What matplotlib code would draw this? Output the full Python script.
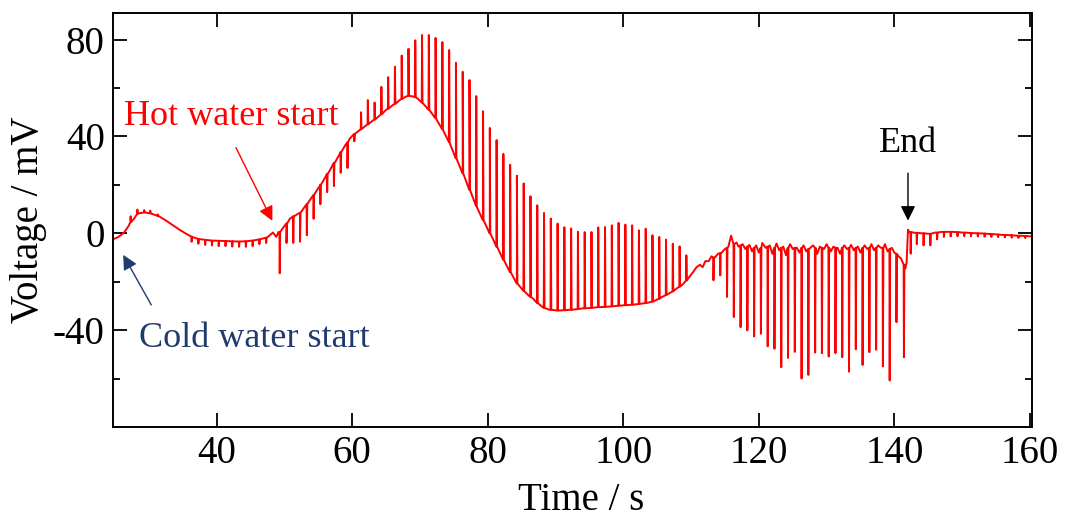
import matplotlib
matplotlib.use("Agg")
import matplotlib.pyplot as plt
from matplotlib.ticker import MultipleLocator

# ---- baseline samples (time s, voltage mV) ----
base_t = [24.7, 25.5, 26.3, 27.0, 27.8, 28.6, 29.5, 30.5, 31.5, 32.5, 33.5, 34.5, 35.5, 36.5, 37.5,
          39.0, 41.0, 43.0, 45.0, 46.5, 47.5, 48.3, 48.8, 49.1,
          49.6, 50.3, 50.8, 51.5, 52.3, 53.0, 53.7, 54.5, 55.2, 56.0, 56.7, 57.5, 58.2, 59.0, 59.6,
          60.3, 61.1, 62.1, 63.0,
          64.1, 65.0, 66.0, 67.0, 67.8, 68.4, 69.0, 69.7, 70.4, 71.5, 72.5, 73.5, 74.4, 75.3, 76.3,
          77.3, 78.4, 79.3, 80.3, 81.2, 82.2, 83.3, 84.3, 85.4, 86.7, 88.1, 89.0, 90.2, 92.0, 94.0,
          96.5, 99.9, 102.0, 103.9, 105.4, 106.4, 107.4, 108.8, 109.6, 110.3, 110.8, 111.3, 111.7,
          112.1, 112.6, 113.0, 113.5, 114.0, 114.5, 115.0, 115.5, 115.9, 116.2,
          116.7, 117.0, 117.6, 118.0, 118.6, 119.0, 119.6, 120.0, 120.5, 121.0, 121.6, 122.0, 122.6,
          123.0, 123.6, 124.0, 124.6, 125.0, 125.6, 126.0, 126.6, 127.0, 127.6, 128.0, 128.6, 129.0,
          129.6, 130.0, 130.6, 131.0, 131.6, 132.0, 132.6, 133.0, 133.6, 134.0, 134.6, 135.0, 135.6,
          136.0, 136.6, 137.0, 137.6, 138.0, 138.6, 139.0, 139.6, 140.0, 140.6, 141.0, 141.3, 141.6,
          141.8, 142.0, 142.2,
          143.0, 144.0, 145.0, 146.0, 147.0, 148.0, 149.0, 150.0, 152.0, 154.0, 156.0, 158.0, 160.3]
base_v = [-2.5, -1.5, 0.2, 3.0, 6.0, 8.3, 8.6, 8.0, 7.0, 5.3, 3.4, 1.5, -0.2, -1.6, -2.4,
          -2.9, -3.2, -3.4, -3.1, -2.4, -1.6, 0.3, -1.5, 0.5,
          1.5, 4.0, 6.0, 7.2, 8.5, 11.0, 13.5, 16.5, 19.5, 23.0, 26.0, 29.5, 33.0, 36.5, 39.0,
          41.0, 42.6, 44.7, 46.5,
          48.8, 51.0, 53.0, 55.0, 56.3, 56.8, 56.5, 55.5, 53.8, 50.5, 46.7, 42.0, 37.2, 31.0, 24.8,
          18.0, 10.8, 5.5, 0.0, -5.0, -10.5, -16.0, -20.7, -24.0, -27.0, -30.5, -31.5, -31.9, -31.6, -31.0,
          -30.5, -29.8, -29.3, -28.5, -26.8, -25.4, -23.8, -21.0, -18.5, -16.0, -14.0, -13.0, -14.0,
          -11.5, -11.5, -9.5, -10.0, -8.4, -8.0, -6.5, -5.5, -1.0, -4.0,
          -3.8, -5.5, -4.5, -6.5, -4.8, -7.5, -5.0, -8.0, -4.0, -6.0, -5.0, -8.5, -4.2,
          -7.0, -5.5, -9.0, -4.5, -6.5, -6.0, -8.0, -5.0, -7.5, -6.0, -5.0, -8.5, -5.5,
          -6.5, -4.5, -7.5, -5.5, -6.0, -8.5, -5.0, -6.5, -4.8, -7.0, -5.5, -8.0, -5.0,
          -6.5, -4.5, -7.0, -5.0, -6.0, -4.5, -7.5, -6.0, -8.0, -9.5, -10.5, -12.5, -14.5,
          -12.0, 1.5, 0.5,
          0.2, 0.0, -0.2, 0.3, 0.6, 0.6, 0.5, 0.3, 0.0, -0.3, -0.7, -1.0, -1.3]

# ---- spikes: time, level at the spike foot, spike extreme ----
spike_t = [27.3, 28.3, 29.3, 30.2, 31.3,
           36.3, 37.3, 38.3, 39.3, 40.3, 41.3, 42.3, 43.3, 44.3, 45.3, 46.3, 47.3,
           49.3,
           50.3, 51.3, 52.3, 53.3, 54.3, 55.3, 56.3, 57.3, 58.3, 59.3, 60.3,
           61.3, 62.3, 63.3, 64.3, 65.3, 66.3, 67.3, 68.3, 69.3, 70.3, 71.3, 72.3, 73.3, 74.3,
           75.3, 76.3, 77.3, 78.3, 79.3, 80.3, 81.3, 82.3, 83.3, 84.3, 85.3, 86.3, 87.3, 88.3,
           89.3, 90.3, 91.3, 92.3, 93.3, 94.3, 95.3, 96.3, 97.3, 98.3, 99.3, 100.3, 101.3, 102.3,
           103.3, 104.3, 105.3, 106.3, 107.3, 108.3, 109.3,
           113.3, 114.3,
           115.3, 116.3, 117.3, 118.3, 119.3, 120.3, 121.3, 122.3, 123.3, 124.3, 125.3, 126.3,
           127.3, 128.3, 129.3, 130.3, 131.3, 132.3, 133.3, 134.3, 135.3, 136.3, 137.3, 138.3,
           139.3, 140.3, 141.4,
           142.4, 143.3, 144.3, 145.3, 146.3, 147.3, 148.3, 149.3, 150.3, 151.3, 152.3, 153.3,
           154.3, 155.3, 156.3, 157.3, 158.3, 159.3]
spike_base = [4.6, 8.0, 8.6, 8.2, 7.2,
              -1.4, -2.3, -2.7, -3.0, -3.1, -3.2, -3.3, -3.4, -3.3, -3.0, -2.5, -1.8,
              0.5,
              4.0, 7.0, 8.5, 12.0, 15.8, 20.0, 24.5, 29.0, 33.5, 37.5, 41.0,
              43.0, 45.0, 47.0, 49.2, 51.5, 53.5, 55.5, 56.8, 56.2, 54.0, 51.0, 47.5, 43.0, 37.7,
              31.0, 24.8, 18.0, 11.3, 5.5, 0.0, -5.5, -11.0, -16.0, -20.7, -23.8, -26.3, -28.8, -30.8,
              -31.6, -31.9, -31.8, -31.6, -31.3, -31.0, -30.8, -30.5, -30.4, -30.2, -29.9, -29.7, -29.5, -29.2,
              -28.8, -28.2, -27.0, -25.5, -24.0, -22.0, -19.5,
              -10.0, -8.2,
              -6.0, -4.5, -5.0, -5.5, -6.0, -6.0, -5.5, -6.0, -6.0, -6.0, -6.0, -6.0,
              -6.5, -6.0, -6.0, -6.0, -6.0, -6.0, -6.0, -6.0, -6.0, -6.0, -6.0, -6.0,
              -6.5, -8.5, -13.0,
              0.5, 0.2, 0.0, -0.2, 0.3, 0.6, 0.6, 0.5, 0.3, 0.1, 0.0, -0.1,
              -0.3, -0.5, -0.7, -0.8, -1.0, -1.1]
spike_peak = [7.0, 9.8, 9.6, 9.4, 7.8,
              -3.5, -4.3, -4.8, -5.0, -5.3, -5.3, -5.5, -5.6, -5.6, -5.3, -4.5, -4.0,
              -16.5,
              -4.0, -4.0, -3.5, -0.8, 6.0, 12.0, 17.0, 19.5, 25.0, 27.0, 38.0,
              50.0, 55.0, 54.0, 60.5, 64.5, 68.8, 73.4, 76.2, 79.7, 81.9, 81.9, 80.7, 79.0, 75.7,
              70.4, 66.7, 63.3, 56.7, 50.4, 43.5, 38.5, 32.8, 28.3, 23.8, 20.6, 15.3, 11.6, 8.4,
              6.1, 4.0, 2.5, 2.0, 0.6, 0.5, 0.5, 2.4, 2.6, 3.3, 4.3, 3.6, 3.3, 1.2,
              1.9, -0.8, -1.5, -2.6, -4.3, -5.4, -9.1,
              -19.4, -17.4,
              -26.3, -34.6, -38.8, -40.1, -42.6, -41.5, -46.7, -47.7, -55.3, -51.5, -49.0, -60.0,
              -58.5, -49.3, -49.5, -50.9, -49.5, -51.2, -57.2, -47.9, -54.4, -49.1, -48.1, -55.0,
              -60.8, -36.7, -51.2,
              -8.4, -4.5, -5.0, -5.0, -2.5, -1.5, -1.3, -1.2, -1.2, -1.2, -1.3, -1.4,
              -1.5, -1.6, -1.7, -1.8, -1.9, -2.0]

x_ticks = [40, 60, 80, 100, 120, 140, 160]
y_ticks = [-40, 0, 40, 80]

# ---- build the trace ----
pts = list(zip(base_t, base_v))
for t, b, p in zip(spike_t, spike_base, spike_peak):
    pts += [(t - 0.04, b), (t, p), (t + 0.07, b)]
pts.sort(key=lambda q: q[0])
tt = [q[0] for q in pts]
vv = [q[1] for q in pts]

plt.rcParams['font.family'] = ['Liberation Serif', 'DejaVu Serif']
plt.rcParams['axes.unicode_minus'] = False

fig = plt.figure(figsize=(10.68, 5.19), dpi=100)
ax = fig.add_axes([0.1058, 0.1773, 0.8605, 0.7977])

ax.plot(tt, vv, color='#ff0000', lw=1.4)

ax.set_xlim(24.7, 160.3)
ax.set_ylim(-80, 91)
ax.set_xticks(x_ticks)
ax.set_yticks(y_ticks)
ax.yaxis.set_minor_locator(MultipleLocator(20))
ax.tick_params(axis='both', which='major', direction='in', length=10, width=1.3,
               top=True, right=True, labelsize=28, pad=6, colors='black')
ax.tick_params(axis='y', which='minor', direction='in', length=5, width=1.3, right=True)
ax.tick_params(axis='x', which='minor', bottom=False, top=False)
for s in ax.spines.values():
    s.set_linewidth(1.4)

ax.set_xlabel('Time / s', fontsize=28)
ax.set_ylabel('Voltage / mV', fontsize=28)
ax.xaxis.set_label_coords(0.509, -0.132)
ax.yaxis.set_label_coords(-0.072, 0.5)

navy = '#1f3a6e'
ax.annotate('', xy=(48.4, 4.1), xytext=(42.66, 36.4),
            arrowprops=dict(arrowstyle='-|>', color='#ff0000', lw=1.0, mutation_scale=22))
ax.text(42.1, 48.4, 'Hot water start', color='#ff0000', fontsize=26, ha='center', va='center')

ax.annotate('', xy=(26.0, -7.9), xytext=(30.55, -30.6),
            arrowprops=dict(arrowstyle='-|>', color=navy, lw=1.0, mutation_scale=22))
ax.text(45.5, -43.4, 'Cold water start', color=navy, fontsize=26, ha='center', va='center')

ax.annotate('', xy=(142.0, 4.1), xytext=(142.0, 26.0),
            arrowprops=dict(arrowstyle='-|>', color='black', lw=1.0, mutation_scale=22))
ax.text(142.0, 37.2, 'End', color='black', fontsize=26, ha='center', va='center')

fig.savefig('out.png', dpi=100)
